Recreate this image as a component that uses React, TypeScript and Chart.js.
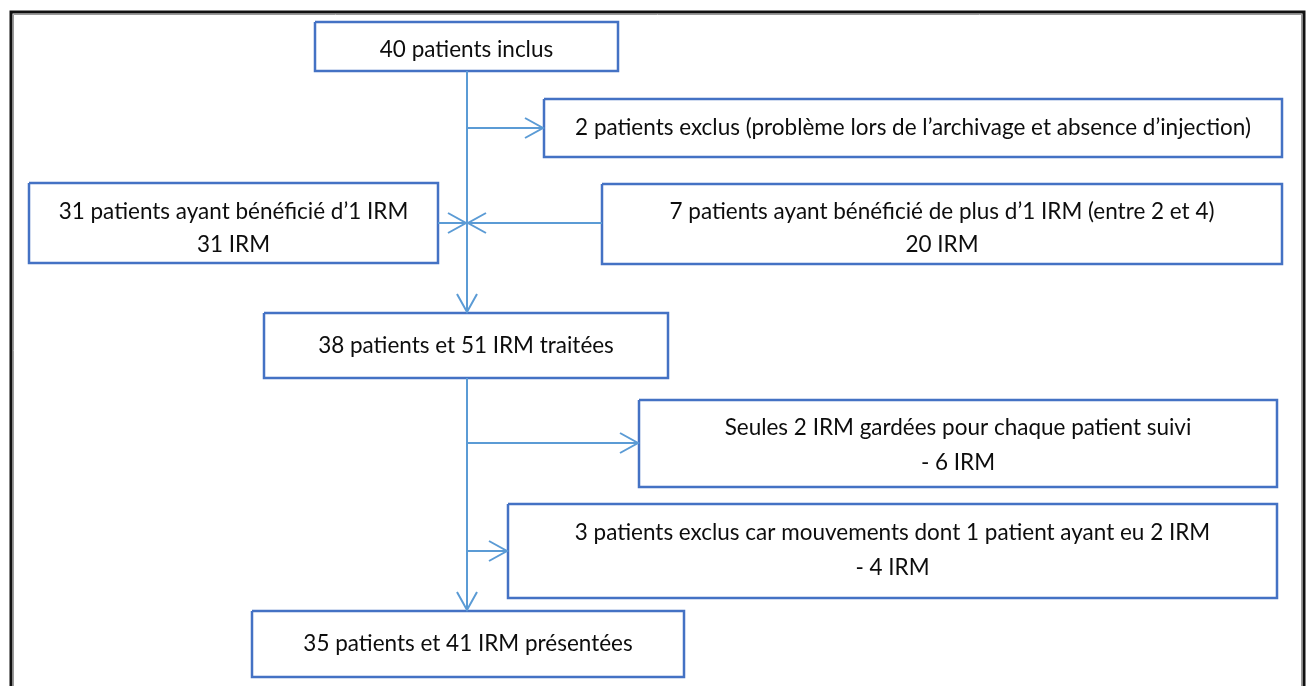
import React, { useEffect, useRef } from "react";
import { Chart, registerables } from "chart.js";

Chart.register(...registerables);

// ---- Flowchart content ----
const boxLabels: string[][] = [
  ["40 patients inclus"],
  ["2 patients exclus (problème lors de l’archivage et absence d’injection)"],
  ["31 patients ayant bénéficié d’1 IRM", "31 IRM"],
  ["7 patients ayant bénéficié de plus d’1 IRM (entre 2 et 4)", "20 IRM"],
  ["38 patients et 51 IRM traitées"],
  ["Seules 2 IRM gardées pour chaque patient suivi", "- 6 IRM"],
  ["3 patients exclus car mouvements dont 1 patient ayant eu 2 IRM", "- 4 IRM"],
  ["35 patients et 41 IRM présentées"],
];

// box extents (diagram units)
const boxLeft = [315, 544, 29, 602, 264, 639, 508, 252];
const boxRight = [618, 1282, 438, 1282, 668, 1277, 1277, 684];
const boxTop = [22, 99, 183, 184, 313, 400, 504, 611];
const boxBottom = [71, 157, 263, 264, 378, 487, 598, 677];

// text baselines per line
const textBaseline: number[][] = [
  [57],
  [135],
  [219, 252],
  [219, 252],
  [353],
  [435, 470],
  [540, 575],
  [651],
];

// connectors (arrow at the "to" end)
const linkFromX = [467, 467, 438, 602, 467, 467, 467];
const linkFromY = [71, 128, 223, 223, 378, 443, 551];
const linkToX = [467, 543, 466, 468, 467, 638, 507];
const linkToY = [312, 128, 223, 223, 610, 443, 551];

// outer frame
const frameLeft = 11;
const frameTop = 12;
const frameRight = 1304;
const frameBottom = 700;

const BOX_COLOR = "#4472C4";
const LINK_COLOR = "#5B9BD5";
const ARROW_LEN = 18;
const ARROW_HALF = 10;

type P = { x: number; y: number };

function buildDatasets() {
  const ds: any[] = [];
  const base = {
    showLine: true,
    pointRadius: 0,
    pointHoverRadius: 0,
    tension: 0,
    fill: false,
    clip: false,
    borderJoinStyle: "miter",
    borderCapStyle: "butt",
  };
  // frame
  const frame: P[] = [
    { x: frameLeft, y: frameBottom },
    { x: frameLeft, y: frameTop },
    { x: frameRight, y: frameTop },
    { x: frameRight, y: frameBottom },
  ];
  ds.push({ ...base, label: "frame", data: frame, borderColor: "#111", borderWidth: 3 });
  const inner: P[] = [
    { x: frameLeft + 2.5, y: frameBottom },
    { x: frameLeft + 2.5, y: frameTop + 2.5 },
    { x: frameRight - 2.5, y: frameTop + 2.5 },
    { x: frameRight - 2.5, y: frameBottom },
  ];
  ds.push({ ...base, label: "frame2", data: inner, borderColor: "#9a9a9a", borderWidth: 1 });

  // connectors
  for (let i = 0; i < linkFromX.length; i++) {
    const fx = linkFromX[i], fy = linkFromY[i], tx = linkToX[i], ty = linkToY[i];
    ds.push({
      ...base,
      label: "link" + i,
      data: [{ x: fx, y: fy }, { x: tx, y: ty }],
      borderColor: LINK_COLOR,
      borderWidth: 2,
    });
    const len = Math.hypot(tx - fx, ty - fy) || 1;
    const ux = (tx - fx) / len, uy = (ty - fy) / len;
    const px = -uy, py = ux;
    ds.push({
      ...base,
      label: "arrow" + i,
      data: [
        { x: tx - ux * ARROW_LEN + px * ARROW_HALF, y: ty - uy * ARROW_LEN + py * ARROW_HALF },
        { x: tx, y: ty },
        { x: tx - ux * ARROW_LEN - px * ARROW_HALF, y: ty - uy * ARROW_LEN - py * ARROW_HALF },
      ],
      borderColor: LINK_COLOR,
      borderWidth: 2,
    });
  }

  // boxes
  for (let i = 0; i < boxLabels.length; i++) {
    const l = boxLeft[i], r = boxRight[i], t = boxTop[i], b = boxBottom[i];
    ds.push({
      ...base,
      label: "box" + i,
      data: [
        { x: l, y: t },
        { x: r, y: t },
        { x: r, y: b },
        { x: l, y: b },
        { x: l, y: t },
      ],
      borderColor: BOX_COLOR,
      borderWidth: 2.5,
    });
  }
  return ds;
}

const FONT_FAMILY = '"Lato", "Open Sans", sans-serif';
const REF_WIDTH = 676; // measured width of the longest single line (box 2)

const textPlugin = {
  id: "boxText",
  afterDatasetsDraw(chart: any) {
    const { ctx } = chart;
    const xs = chart.scales.x;
    const ys = chart.scales.y;
    ctx.save();
    ctx.font = `100px ${FONT_FAMILY}`;
    const w = ctx.measureText(boxLabels[1][0]).width;
    const size = (100 * REF_WIDTH) / w;
    ctx.font = `${size.toFixed(2)}px ${FONT_FAMILY}`;
    ctx.fillStyle = "#0d0d0d";
    ctx.textAlign = "center";
    ctx.textBaseline = "alphabetic";
    boxLabels.forEach((lines, i) => {
      const cx = (boxLeft[i] + boxRight[i]) / 2;
      lines.forEach((t, j) => {
        ctx.fillText(t, xs.getPixelForValue(cx), ys.getPixelForValue(textBaseline[i][j]));
      });
    });
    ctx.restore();
  },
};

export default function App() {
  const ref = useRef<HTMLCanvasElement>(null);
  useEffect(() => {
    document.body.style.margin = "0";
    const chart = new Chart(ref.current as HTMLCanvasElement, {
      type: "scatter",
      data: { datasets: buildDatasets() },
      options: {
        animation: false,
        responsive: false,
        maintainAspectRatio: false,
        events: [],
        layout: { padding: 0 },
        plugins: { legend: { display: false }, tooltip: { enabled: false } },
        scales: {
          x: { type: "linear", min: 0, max: 1309, display: false },
          y: { type: "linear", min: 0, max: 686, reverse: true, display: false },
        },
      },
      plugins: [textPlugin],
    } as any);
    return () => chart.destroy();
  }, []);
  return (
    <canvas
      ref={ref}
      width={1309}
      height={686}
      style={{ display: "block", width: 1309, height: 686, background: "#fff" }}
    />
  );
}
